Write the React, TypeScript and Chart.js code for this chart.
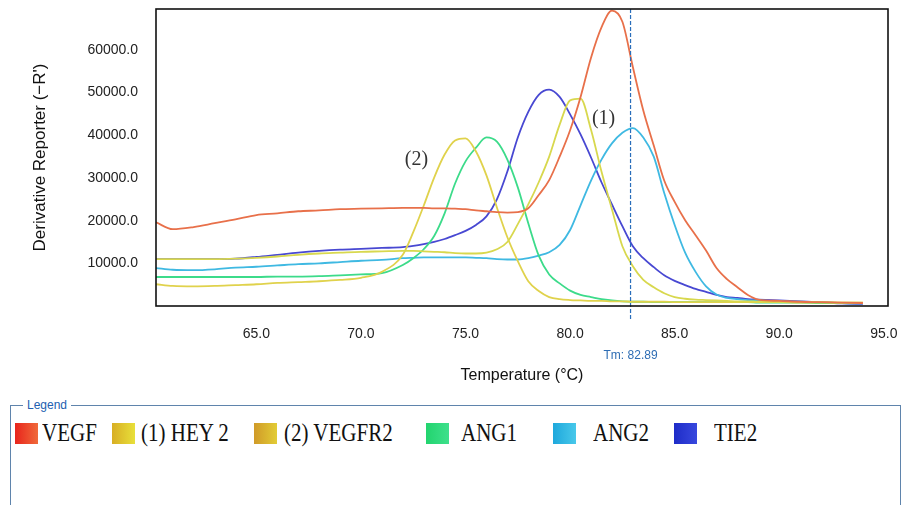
import React, { useEffect, useRef } from 'react';
import { Chart, registerables } from 'chart.js';

Chart.register(...registerables);

// ---- data ----
const temps = [
  60.2, 61, 62, 63, 64, 65, 66, 67, 68, 69, 70, 71, 72,
  72.5, 73, 73.5, 74, 74.5, 75, 75.5, 76, 76.5, 77, 77.5, 78, 78.5, 79, 79.5, 80,
  80.5, 81, 81.5, 82, 82.5, 83, 83.5, 84, 84.5, 85, 85.5, 86, 86.5, 87, 87.5, 88, 88.5, 89,
  90, 91, 92, 93, 94,
];

const vegf = [
  19600, 18000, 18500, 19400, 20300, 21300, 21700, 22200, 22400, 22700, 22800, 22900, 23000,
  23000, 23000, 22900, 22900, 22800, 22700, 22400, 22200, 22000, 21900, 22000, 22900, 26000, 29500, 35000, 41200,
  49000, 58200, 65300, 69200, 66600, 56000, 45800, 37600, 29400, 24400, 20100, 16600, 13000, 8900, 6300, 4400, 2600, 1500,
  1200, 1000, 900, 800, 700,
];

const hey2 = [
  11000, 11000, 11000, 11000, 11100, 11300, 11600, 12000, 12300, 12500, 12700, 12800, 12900,
  12900, 12800, 12700, 12600, 12400, 12300, 12300, 12500, 13300, 15000, 19200, 23800, 29000, 35000, 42500, 48200,
  48600, 41300, 31500, 22700, 14000, 9300, 6100, 4400, 3000, 2100, 1700, 1500, 1400, 1300, 1200, 1100, 1100, 1000,
  1000, 900, 900, 800, 800,
];

const vegfr2 = [
  5100, 4700, 4600, 4700, 4900, 5100, 5400, 5600, 5800, 6100, 6600, 8000, 12000,
  17300, 23500, 30100, 35500, 38800, 39300, 36200, 30600, 23100, 16100, 10500, 5800, 3500, 2100, 1600, 1400,
  1300, 1200, 1200, 1100, 1100, 1000, 1000, 1000, 1000, 900, 900, 900, 900, 900, 900, 900, 900, 900,
  900, 800, 800, 800, 800,
];

const ang1 = [
  6800, 6800, 6800, 6800, 6800, 6800, 6900, 6900, 7000, 7200, 7400, 7700, 9600,
  11200, 13300, 16400, 21700, 28700, 33900, 37100, 39500, 38500, 34300, 27800, 19400, 11800, 7400, 5300, 3600,
  2600, 2100, 1600, 1300, 1100, 1000, 1000, 900, 900, 900, 900, 900, 900, 900, 900, 900, 900, 800,
  800, 800, 700, 700, 700,
];

const ang2 = [
  8900, 8500, 8400, 8600, 9000, 9200, 9500, 9800, 10000, 10300, 10600, 10800, 11200,
  11300, 11400, 11400, 11400, 11400, 11400, 11300, 11200, 11000, 10900, 10900, 11200, 11800, 12600, 14300, 17800,
  23600, 29400, 34300, 38100, 40600, 41700, 39500, 35000, 26500, 19000, 12500, 8000, 4600, 2700, 1900, 1600, 1400, 1300,
  1100, 1000, 900, 700, 600,
];

const tie2 = [
  11000, 11000, 11000, 11000, 11100, 11500, 12000, 12500, 12900, 13200, 13400, 13600, 13800,
  14100, 14500, 15000, 15700, 16600, 17600, 19000, 21000, 25000, 31500, 39500, 45500, 49500, 50700, 49000, 44900,
  40200, 34800, 29000, 23800, 18700, 14000, 11200, 9100, 7200, 5900, 4900, 4000, 3300, 2600, 2100, 1900, 1600, 1500,
  1300, 1100, 900, 600, 500,
];

const seriesNames = ['VEGF', '(1) HEY 2', '(2) VEGFR2', 'ANG1', 'ANG2', 'TIE2'];
const seriesValues = [vegf, hey2, vegfr2, ang1, ang2, tie2];
const lineColors = ['#E8704A', '#D8D84E', '#E0D24C', '#3CDB8A', '#3FB9E2', '#4848D2'];
const legendGradients = [
  ['#E8241C', '#F06A3A'],
  ['#D8AE24', '#E8E03A'],
  ['#D09A28', '#E2CC36'],
  ['#22D46E', '#3EE08C'],
  ['#1EA8DC', '#48C8EA'],
  ['#1E2CC8', '#3848DE'],
];

const xTicks = [65, 70, 75, 80, 85, 90, 95];
const yTicks = [10000, 20000, 30000, 40000, 50000, 60000];
const tmValue = 82.89;
const peakLabels = [
  { text: '(1)', x: 81.6, y: 43900 },
  { text: '(2)', x: 72.65, y: 34300 },
];

// layout constants
const legendSquareLeft = [15, 112, 254, 426, 553, 674];
const legendTextLeft = [42, 141, 284, 461, 593, 714];

const overlayPlugin = {
  id: 'overlay',
  afterDatasetsDraw(chart: any) {
    const { ctx, chartArea, scales } = chart;
    const { left, top, right, bottom } = chartArea;
    const x = scales.x;
    const y = scales.y;
    ctx.save();
    // Tm dashed line
    const tx = x.getPixelForValue(tmValue);
    ctx.setLineDash([4, 2]);
    ctx.strokeStyle = '#2A6EBB';
    ctx.lineWidth = 1.2;
    ctx.beginPath();
    ctx.moveTo(tx, top);
    ctx.lineTo(tx, bottom + 14);
    ctx.stroke();
    ctx.setLineDash([]);
    // frame
    ctx.strokeStyle = '#111';
    ctx.lineWidth = 1.6;
    ctx.strokeRect(left, top, right - left, bottom - top);
    // Tm label
    ctx.fillStyle = '#2E6DB4';
    ctx.font = '12px "Liberation Sans", Arial, sans-serif';
    ctx.textAlign = 'center';
    ctx.textBaseline = 'middle';
    ctx.fillText('Tm: ' + tmValue.toFixed(2), tx, bottom + 50);
    // peak labels
    ctx.fillStyle = '#333';
    ctx.font = '20px "Liberation Serif", "Times New Roman", serif';
    for (const a of peakLabels) {
      ctx.fillText(a.text, x.getPixelForValue(a.x), y.getPixelForValue(a.y));
    }
    ctx.restore();
  },
};

function MeltChart() {
  const ref = useRef<HTMLCanvasElement | null>(null);
  useEffect(() => {
    if (!ref.current) return;
    const datasets = seriesValues.map((vals, i) => ({
      label: seriesNames[i],
      data: temps.map((t, j) => ({ x: t, y: vals[j] })),
      borderColor: lineColors[i],
      backgroundColor: lineColors[i],
      borderWidth: 1.8,
      pointRadius: 0,
      fill: false,
      cubicInterpolationMode: 'monotone' as const,
    }));
    const chart = new Chart(ref.current, {
      type: 'line',
      data: { datasets },
      plugins: [overlayPlugin],
      options: {
        animation: false,
        responsive: false,
        devicePixelRatio: 1,
        layout: { padding: { left: 0, right: 15, top: 9, bottom: 0 } },
        plugins: { legend: { display: false }, tooltip: { enabled: false } },
        scales: {
          x: {
            type: 'linear',
            min: 60.2,
            max: 95.2,
            grid: { display: false, drawTicks: false },
            border: { display: false },
            afterBuildTicks: (s: any) => {
              s.ticks = xTicks.map((v) => ({ value: v }));
            },
            afterFit: (s: any) => {
              s.height = 89;
              s.paddingLeft = 0;
              s.paddingRight = 0;
            },
            ticks: {
              padding: 20,
              maxRotation: 0,
              autoSkip: false,
              color: '#222',
              font: { family: '"Liberation Sans", Arial, sans-serif', size: 14 },
              callback: (v: any) => Number(v).toFixed(1),
            },
            title: {
              display: true,
              text: 'Temperature (°C)',
              color: '#111',
              font: { family: '"Liberation Sans", Arial, sans-serif', size: 16 },
              padding: { top: 0, bottom: 9.6 },
            },
          },
          y: {
            type: 'linear',
            min: 0,
            max: 69600,
            grid: { display: false, drawTicks: false },
            border: { display: false },
            afterBuildTicks: (s: any) => {
              s.ticks = yTicks.map((v) => ({ value: v }));
            },
            afterFit: (s: any) => {
              s.width = 156;
              s.paddingTop = 0;
              s.paddingBottom = 0;
            },
            ticks: {
              padding: 18,
              autoSkip: false,
              color: '#222',
              font: { family: '"Liberation Sans", Arial, sans-serif', size: 14 },
              callback: (v: any) => Number(v).toFixed(1),
            },
            title: {
              display: true,
              text: "Derivative Reporter (−R')",
              color: '#111',
              font: { family: '"Liberation Sans", Arial, sans-serif', size: 17 },
              padding: { top: 29.8, bottom: 0 },
            },
          },
        },
      },
    });
    return () => chart.destroy();
  }, []);
  return <canvas ref={ref} width={903} height={395} style={{ position: 'absolute', left: 0, top: 0, width: 903, height: 395 }} />;
}

export default function App() {
  return (
    <div style={{ position: 'absolute', left: 0, top: 0, width: 903, height: 505, background: '#fff', overflow: 'hidden' }}>
      <MeltChart />
      <div
        style={{
          position: 'absolute',
          left: 10,
          top: 405,
          width: 889,
          height: 110,
          borderTop: '1.5px solid #5F84AC',
          borderLeft: '1.5px solid #5F84AC',
          borderRight: '1.5px solid #5F84AC',
        }}
      >
        <span
          style={{
            position: 'absolute',
            left: 12,
            top: -9,
            background: '#fff',
            padding: '0 4px',
            font: '12px "Liberation Sans", Arial, sans-serif',
            color: '#2260B0',
            lineHeight: '16px',
          }}
        >
          Legend
        </span>
      </div>
      {seriesNames.map((name, i) => (
        <React.Fragment key={name}>
          <div
            style={{
              position: 'absolute',
              left: legendSquareLeft[i],
              top: 423,
              width: 23,
              height: 21,
              background: `linear-gradient(to right, ${legendGradients[i][0]}, ${legendGradients[i][1]})`,
            }}
          />
          <div
            style={{
              position: 'absolute',
              left: legendTextLeft[i],
              top: 420,
              font: '21px "Liberation Serif", "Times New Roman", serif',
              color: '#111',
              lineHeight: '26px',
              whiteSpace: 'nowrap',
              transform: 'scaleY(1.15)',
              transformOrigin: 'left center',
            }}
          >
            {name}
          </div>
        </React.Fragment>
      ))}
    </div>
  );
}
